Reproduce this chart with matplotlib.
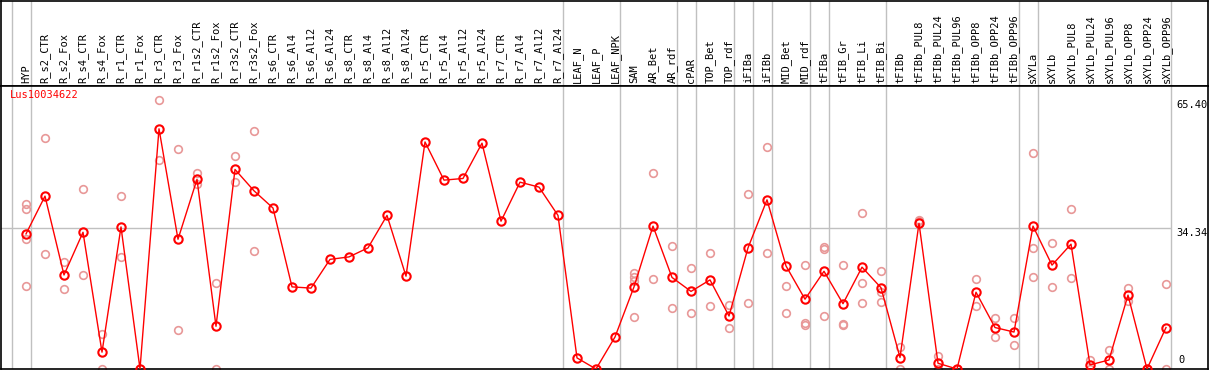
import matplotlib
matplotlib.use("Agg")
import matplotlib.pyplot as plt

labels = ["HYP", "R_s2_CTR", "R_s2_Fox", "R_s4_CTR", "R_s4_Fox", "R_r1_CTR", "R_r1_Fox",
          "R_r3_CTR", "R_r3_Fox", "R_r1s2_CTR", "R_r1s2_Fox", "R_r3s2_CTR", "R_r3s2_Fox",
          "R_s6_CTR", "R_s6_Al4", "R_s6_Al12", "R_s6_Al24", "R_s8_CTR", "R_s8_Al4",
          "R_s8_Al12", "R_s8_Al24", "R_r5_CTR", "R_r5_Al4", "R_r5_Al12", "R_r5_Al24",
          "R_r7_CTR", "R_r7_Al4", "R_r7_Al12", "R_r7_Al24", "LEAF_N", "LEAF_P", "LEAF_NPK",
          "SAM", "AR_Bet", "AR_rdf", "cPAR", "TOP_Bet", "TOP_rdf", "iFIBa", "iFIBb",
          "MID_Bet", "MID_rdf", "tFIBa", "tFIB_Gr", "tFIB_Li", "tFIB_Bi", "tFIBb",
          "tFIBb_PUL8", "tFIBb_PUL24", "tFIBb_PUL96", "tFIBb_OPP8", "tFIBb_OPP24",
          "tFIBb_OPP96", "sXYLa", "sXYLb", "sXYLb_PUL8", "sXYLb_PUL24", "sXYLb_PUL96",
          "sXYLb_OPP8", "sXYLb_OPP24", "sXYLb_OPP96"]

# mean expression per sample
mean_vals = [32.9, 42.1, 22.9, 33.3, 4.1, 34.6, 0.0, 58.5, 31.6, 46.2, 10.4, 48.6, 43.4,
             39.2, 20.0, 19.7, 26.7, 27.3, 29.5, 37.4, 22.6, 55.3, 46.0, 46.4, 55.0,
             36.0, 45.5, 44.3, 37.4, 2.7, 0.0, 7.8,
             20.0, 34.8, 22.3, 18.9, 21.7, 12.9, 29.5, 41.2, 25.1, 17.0, 23.8, 15.9,
             24.8, 19.8, 2.8, 35.5, 1.4, 0.0, 18.7, 10.1, 9.0, 34.8, 25.3, 30.4, 1.0,
             2.2, 18.0, 0.0, 10.1]

# single replicates (faded circles)
rep_vals = [[40.2, 39.0, 31.6, 20.2], [56.2, 28.0], [26.1, 19.4], [43.8, 22.9],
            [8.6, 0.1], [42.1, 27.2], [], [65.4, 50.9], [53.7, 9.5], [47.8, 45.0],
            [20.9, 0.1], [51.9, 45.5], [57.9, 28.7],
            [], [], [], [], [], [], [], [], [], [], [], [], [], [], [], [], [], [], [],
            [23.5, 22.5, 21.5, 12.6], [47.7, 21.8], [30.0, 14.8], [24.5, 13.6],
            [28.3, 15.3], [15.6, 10.0], [42.6, 16.1], [54.1, 28.3], [20.1, 13.6],
            [25.3, 11.1, 10.6], [29.8, 29.3, 12.9], [25.3, 11.0, 10.6],
            [38.0, 20.9, 16.1], [23.9, 18.8, 16.4], [5.4, 0.0], [36.0, 36.3],
            [3.2, 0.0], [0.0], [21.8, 15.3], [12.3, 7.7], [12.3, 5.8],
            [52.5, 29.4, 22.3], [30.6, 20.0], [39.0, 22.2], [2.2, 0.0], [4.6, 0.0],
            [19.7, 16.5], [0.0], [20.6, 0.0]]

group_ends = [-1, 0, 28, 31, 34, 35, 37, 38, 39, 41, 42, 45, 52, 53, 60]
ref_lines = [65.40, 34.34, 0]

W, H = 1209, 370
mono = "DejaVu Sans Mono"
fs = 7.5
grey = "#c0c0c0"
pink = "#e89898"

fig = plt.figure(figsize=(W / 100, H / 100), dpi=100)

xlim = ((1 - 26) / 19, (1208 - 26) / 19)
ylim = (0, 283 / 4.106)

# header box
hx = fig.add_axes([1 / W, 284 / H, 1207 / W, 85.5 / H])
hx.set_facecolor("none")
hx.set_xlim(xlim)
hx.set_xticks([])
hx.set_yticks([])
for s in hx.spines.values():
    s.set_color("black")
    s.set_linewidth(1.2)

ax = fig.add_axes([1 / W, 1 / H, 1207 / W, 283 / H])
ax.set_xlim(xlim)
ax.set_ylim(ylim)
for s in ax.spines.values():
    s.set_color("black")
    s.set_linewidth(1.2)

for g in group_ends:
    ax.axvline(g + 0.24, color=grey, lw=1, zorder=0)
    hx.axvline(g + 0.24, color=grey, lw=1, zorder=0)

ax.axhline(ref_lines[1], xmin=0, xmax=(1170 - 1) / 1207, color=grey, lw=1, zorder=0)

# replicates
for i, reps in enumerate(rep_vals):
    if reps:
        ax.plot([i] * len(reps), reps, ls="none", marker="o", ms=5.5, mfc="none",
                mec=pink, mew=1.2, zorder=2)

ax.plot(range(len(mean_vals)), mean_vals, color="red", lw=1, marker="o", ms=6,
        mfc="none", mec="red", mew=1.5, zorder=3)

ax.set_xticks(range(len(labels)))
ax.set_xticklabels(labels, rotation=90, fontfamily=mono, fontsize=fs)
ax.tick_params(axis="x", top=True, labeltop=True, bottom=False, labelbottom=False,
               length=0, pad=2.2)
ax.set_yticks([])

tr = ax.get_yaxis_transform()
xl = (1176 - 1) / 1207
ax.text(xl, ref_lines[0], "%.2f" % ref_lines[0], transform=tr, va="top", ha="left",
        fontfamily=mono, fontsize=fs)
ax.text(xl, ref_lines[1], "%.2f" % ref_lines[1], transform=tr, va="top", ha="left",
        fontfamily=mono, fontsize=fs)
ax.text(xl + 0.002, 1.0, "0", transform=tr, va="bottom", ha="left",
        fontfamily=mono, fontsize=fs)

ax.text(9 / 1207, 0.985, "Lus10034622", transform=ax.transAxes, color="red",
        va="top", ha="left", fontfamily=mono, fontsize=fs)

fig.savefig("out.png", dpi=100)
